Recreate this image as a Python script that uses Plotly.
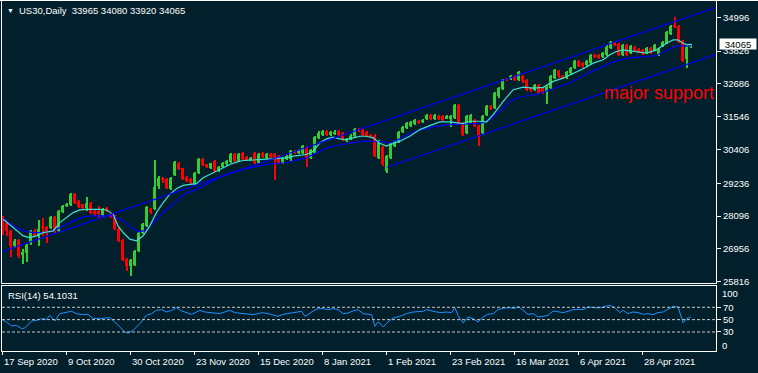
import plotly.graph_objects as go

# ---------------- data ----------------
bars = list(range(173))
opens = [28042,27869,27581,27062,27269,26751,26808,27154,27581,27407,27731,27731,27696,28065,27581,28250,28446,28480,28849,28618,
         28503,28388,28538,28273,28273,28123,28365,28157,28100,27661,27258,26601,26370,26393,26889,27523,27754,28330,28353,29137,
         29426,29391,29022,29506,29921,29748,29449,29368,29195,29599,30060,29887,29771,30002,29679,29795,29887,29968,30267,30002,
         30290,30140,30060,30290,29945,30290,30117,30256,30233,30175,29945,30083,30060,30371,30290,30290,30498,30117,30290,30809,
         30924,31040,30924,30948,31040,30982,30694,30775,30890,31120,31098,31005,30925,30891,30118,30487,29657,30118,30522,30661,
         31006,31156,31237,31294,31387,31363,31467,31617,31467,31583,31560,31479,31479,31502,31963,31329,30983,31329,31444,31237,
         30983,31617,31928,31848,32251,32505,32874,32851,32943,32828,32966,32828,32540,32482,32655,32540,32390,32540,32885,33139,
         32966,32909,33058,33231,33462,33404,33347,33404,33693,33693,33612,33693,33923,34096,34073,33693,34038,33750,33958,33889,
         33866,33750,33923,33861,33687,34000,34093,34406,34730,34696,34188,33544,33965]
highs = [28090,27900,27600,27290,27300,26947,27130,27620,27640,27961,28042,27760,28110,28100,28310,28490,28560,28900,28890,28650,
         28530,28768,28580,28320,28446,28360,28420,28190,28130,27700,27290,26650,26610,26930,27560,27870,28460,28380,30025,29500,
         29460,29420,29460,30000,29960,29780,29480,29400,29630,30120,30100,29920,29950,30040,29830,29980,30040,30270,30300,30270,
         30330,30170,30160,30330,30300,30330,30300,30290,30270,30210,30150,30210,30380,30400,30440,30560,30530,30440,30870,31050,
         31100,31080,31050,31070,31080,31020,30810,30930,31160,31170,31130,31040,30960,30930,30740,30530,30210,30680,30740,31050,
         31220,31370,31400,31480,31420,31480,31650,31650,31650,31620,31600,31600,31600,32000,32000,31360,31620,31650,31480,31270,
         31600,31940,31960,32400,32570,32860,32900,32980,32980,33120,33000,32860,32570,32690,32690,32570,32610,33000,33210,33180,
         33000,33120,33270,33520,33500,33440,33520,33730,33730,33730,33790,34020,34170,34130,34110,34080,34080,34050,33990,33920,
         33900,33980,33960,34070,33920,34180,34510,34730,35017,34730,34220,34004,34080]
lows = [27442,27407,26658,26990,26624,26428,26485,27100,27360,27062,27407,27154,27650,27500,27540,28200,28400,28440,28520,28380,
        28340,28273,28180,28100,28042,28080,28230,28020,27600,27190,26540,26197,26024,26350,26850,27480,27720,28150,28300,29050,
        29250,29040,28990,29470,29680,29330,29270,29200,29150,29560,29820,29780,29730,29620,29640,29760,29850,29940,29970,29970,
        30020,29990,30020,29910,29910,30120,30080,30100,29345,29910,29900,30040,30020,30250,30250,30250,29795,30080,30250,30770,
        30880,30880,30880,30900,30880,30690,30650,30740,30850,31000,30880,30830,30820,30140,30080,29850,29600,30080,30490,30620,
        30970,31120,31200,31260,31290,31330,31430,31430,31430,31430,31400,31450,31180,31460,31290,30880,30950,31290,31200,30522,
        30950,31580,31780,31810,32210,32470,32790,32810,32790,32790,32730,32440,32420,32440,32330,32350,31998,32500,32850,32900,
        32850,32870,33020,33200,33280,33250,33310,33370,33580,33540,33580,33660,33890,34000,33660,33660,33660,33710,33830,33740,
        33680,33720,33720,33830,33650,33970,34060,34380,34640,34110,33450,33225,33920]
closes = [27581,27581,27062,27235,26716,26831,27097,27581,27407,27638,27696,27581,28065,27546,28273,28446,28503,28849,28561,28422,
          28388,28538,28215,28157,28157,28330,28273,28065,27638,27235,26578,26370,26566,26889,27523,27835,28422,28238,29114,29414,
          29368,29080,29426,29968,29714,29368,29310,29253,29599,30083,29852,29806,29921,29656,29795,29945,30002,30233,30002,30233,
          30060,30025,30117,29945,30267,30152,30267,30140,30117,29945,30117,30175,30348,30290,30406,30521,30117,30406,30832,30982,
          31040,30924,31005,31028,30924,30728,30775,30890,31120,31040,30924,30867,30868,30176,30695,29888,30176,30637,30695,31006,
          31179,31329,31363,31444,31329,31444,31617,31467,31617,31467,31444,31560,31560,31963,31329,30925,31583,31617,31237,30891,
          31560,31905,31813,32367,32540,32828,32828,32943,32828,33081,32770,32482,32459,32655,32367,32390,32574,32966,33174,32943,
          32885,33081,33231,33485,33312,33289,33485,33693,33612,33577,33750,33981,34131,34038,33693,34038,33693,34015,33866,33773,
          33716,33946,33750,34034,33885,34149,34475,34694,34673,34154,33485,33958,34065]

# moving averages (vertices)
fast_ma_bar = [0.1,5.1,6.75,8.4,10.1,12.6,14.25,15.9,17.6,19.25,20.9,24.25,25.9,27.6,28.8,30.1,31.75,33.4,35.1,36.75,
               38.4,40.1,41.75,43.4,45.1,46.75,48.4,50.1,51.75,53.4,55.1,56.75,58.4,60.1,61.75,64.25,66.75,69.25,70.9,72.6,
               74.25,75.9,77.6,79.25,80.9,82.6,84.25,85.9,87.6,89.25,90.9,92.6,94.25,95.9,97.6,99.25,101.75,104.25,106.75,109.25,
               111.75,113.4,115.1,116.75,119.25,120.9,122.6,125.1,127.6,130.1,132.6,135.1,137.6,140.1,142.6,145.1,147.6,150.1,151.75,153.4,
               155.1,158.4,160.9,163.4,165.9,167.6,168.8,170.1,171.1,172.1]
fast_ma_val = [27984,27408,27350,27408,27523,27581,27869,28042,28215,28307,28330,28330,28307,28157,27754,27523,27293,27235,27408,27754,
               28215,28561,28849,29045,29160,29195,29218,29426,29541,29656,29771,29887,29968,30025,30037,30060,30083,30083,30117,30175,
               30198,30233,30348,30636,30775,30832,30775,30752,30809,30867,30867,30809,30620,30522,30614,30695,30868,31098,31237,31363,
               31363,31329,31306,31387,31387,31360,31617,32078,32482,32574,32540,32563,32770,32885,33035,33208,33404,33520,33693,33808,
               33866,33808,33750,33866,34096,34211,34211,34096,34038,34062]
slow_ma_bar = [0.1,2.6,5.1,7.6,10.1,12.6,15.1,17.6,20.1,22.6,25.1,27.6,30.1,32.6,34.25,35.9,37.6,39.25,40.9,42.6,
               44.25,45.9,48.4,50.9,53.4,55.9,58.4,60.9,63.4,65.9,68.4,70.9,73.4,75.9,78.4,80.9,83.4,85.9,88.4,90.9,
               94.25,96.75,99.25,101.75,104.25,106.75,109.25,111.75,114.25,116.75,119.25,121.75,124.25,126.75,129.25,131.75,134.25,136.75,139.25,141.75,
               144.25,146.75,149.25,151.75,154.25,156.75,159.25,161.75,163.4,165.1,166.75,168.4,170.1,172.1]
slow_ma_val = [28008,27754,27581,27523,27523,27581,27754,27927,28065,28100,28100,28100,27927,27638,27546,27615,27869,28100,28330,28503,
               28734,28884,29022,29195,29391,29541,29656,29737,29806,29887,29921,29945,30037,30117,30290,30463,30544,30613,30659,30694,
               30680,30637,30776,30960,31075,31156,31237,31271,31294,31306,31306,31444,31733,32078,32228,32286,32344,32482,32597,32713,
               32909,33093,33231,33404,33520,33589,33623,33635,33681,33796,33912,34004,34004,34004]

# trend channel lines (two anchor points each)
upper_line_bar = [-1, 179]
upper_line_val = [26823, 35373]
lower_line_bar = [96, 179]
lower_line_val = [29790, 33738]

# RSI(14) vertices
rsi_bar = [-0.1,0.9,2.2,3.4,4.7,5.5,7.2,8.4,9.7,10.9,11.75,13,14.25,15.9,17.2,18.4,20.1,21.3,22.6,24.25,
           25.9,26.75,28,29.25,30.5,31.3,32.6,34.25,35.9,37.2,38.4,39.7,40.9,42.2,43.4,44.7,45.9,47.2,48.4,49.25,
           50.5,51.75,53,54.25,55.5,56.75,58,59.25,60.9,62.6,63.8,65.1,66.3,67.6,68.8,70.1,71.75,73,74.7,75.5,
           76.3,77.6,78.8,80.1,81.3,82.6,83.8,85.1,86.3,87.6,88.8,90.1,91.3,92.2,93,93.8,94.25,95.1,96.3,97.6,
           99.25,100.9,102.6,105.1,105.9,107.2,108.4,109.7,110.9,112.2,113,113.8,115.1,116.3,117.6,118.8,120.1,121.3,122.6,123.8,
           125.1,126.75,128,128.8,130.1,131.3,132.6,133.8,135.1,136.3,137.6,138.8,140.1,141.3,142.6,143.8,145.1,146.3,147.6,148.8,
           150.1,151.75,153,154.25,155.1,156.3,157.6,158.8,160.1,161.3,162.6,163.8,165.1,166.3,167.6,168.8,170.1,170.9,171.9,172]
rsi_val = [50,46.2,39.7,40.8,35.4,36.5,47.8,48.9,51.6,50.5,57.0,47.8,59.7,61.4,63.5,59.7,58.1,58.6,51.6,51.6,
           53.2,53.2,46.2,38.1,30.0,28.4,32.7,43.5,57.0,59.7,65.1,66.2,62.4,65.1,69.5,64.1,61.4,58.6,62.4,65.1,
           62.4,61.4,59.7,59.7,62.4,65.1,61.4,60.8,59.7,58.1,59.7,61.4,59.7,58.1,55.4,58.6,60.8,61.4,63.5,55.4,
           58.1,64.1,67.8,67.8,66.2,67.8,66.2,59.7,60.8,64.1,66.2,59.7,58.6,58.1,39.2,46.2,44.6,38.1,46.2,52.7,
           55.4,59.7,62.4,63.5,66.2,64.1,62.4,61.4,62.4,61.4,69.5,57.0,44.6,54.3,51.6,46.2,54.3,58.6,59.7,66.2,
           68.4,69.5,67.8,71.6,64.1,58.6,59.7,54.3,55.4,57.0,64.1,62.4,61.4,63.5,66.2,66.8,66.2,70.5,69.5,68.9,
           70.5,73.2,69.5,61.4,65.1,59.7,62.4,61.4,58.6,59.7,58.1,61.4,62.4,66.2,71.6,70.5,44.6,51.6,53.2,54.1]
rsi_levels = [70, 50, 30]

price_ticks = [34996, 33826, 32686, 31546, 30406, 29236, 28096, 26956, 25816]
date_tick_bars = [0, 16, 32, 48, 64, 80, 96, 112, 128, 144, 160]
date_tick_labels = ["17 Sep 2020", "9 Oct 2020", "30 Oct 2020", "23 Nov 2020", "15 Dec 2020", "8 Jan 2021",
                    "1 Feb 2021", "23 Feb 2021", "16 Mar 2021", "6 Apr 2021", "28 Apr 2021"]
title_text = "US30,Daily\u00a0 33965 34080 33920 34065"
rsi_title = "RSI(14) 54.1031"
last_price = 34065
note_text = "major support"

# ---------------- styling / layout ----------------
W, H = 758, 373
BG = "#01202b"
GREEN = "#32CD32"
RED = "#FF0000"
FONT = "Liberation Sans, Arial, sans-serif"

def fx(p):
    return p / W

def fy(p):
    return 1 - p / H

XDOM = [fx(2), fx(716)]
XR = [-0.2, 178.3]

cols = [GREEN if c >= o else RED for o, c in zip(opens, closes)]
fig = go.Figure()
fig.add_trace(go.Bar(x=bars, y=[h - l for h, l in zip(highs, lows)], base=lows, width=0.25,
                     marker=dict(color=cols, line=dict(width=0)), hoverinfo="skip", xaxis="x", yaxis="y"))
fig.add_trace(go.Bar(x=bars, y=[max(abs(c - o), 20) for o, c in zip(opens, closes)],
                     base=[min(o, c) for o, c in zip(opens, closes)], width=0.75,
                     marker=dict(color=cols, line=dict(width=0)), hoverinfo="skip", xaxis="x", yaxis="y"))
fig.add_trace(go.Scatter(x=slow_ma_bar, y=slow_ma_val, mode="lines", line=dict(color="#0000FF", width=1.2),
                         xaxis="x", yaxis="y"))
fig.add_trace(go.Scatter(x=fast_ma_bar, y=fast_ma_val, mode="lines", line=dict(color="#40E0D0", width=1.2),
                         xaxis="x", yaxis="y"))
fig.add_trace(go.Scatter(x=upper_line_bar, y=upper_line_val, mode="lines", line=dict(color="#0000FF", width=1.2),
                         xaxis="x", yaxis="y"))
fig.add_trace(go.Scatter(x=lower_line_bar, y=lower_line_val, mode="lines", line=dict(color="#0000FF", width=1.2),
                         xaxis="x", yaxis="y"))
fig.add_trace(go.Scatter(x=rsi_bar, y=rsi_val, mode="lines", line=dict(color="#1E90FF", width=1),
                         xaxis="x2", yaxis="y2"))

axis_common = dict(showgrid=False, zeroline=False, showline=True, mirror=True, linecolor="white", linewidth=1)
tickfont = dict(family=FONT, size=9.5, color="white")

shapes = []
for lv in rsi_levels:
    shapes.append(dict(type="line", xref="x2 domain", x0=0, x1=1, yref="y2", y0=lv, y1=lv,
                       line=dict(color="#C8C8C8", width=1, dash="3px,2px")))
shapes.append(dict(type="line", xref="paper", x0=0, x1=1, yref="paper", y0=fy(0.5), y1=fy(0.5),
                   line=dict(color="white", width=1)))

ann = []
ann.append(dict(xref="paper", yref="paper", x=fx(5), y=fy(10), xanchor="left", yanchor="middle",
                text="\u25BC", showarrow=False, font=dict(family=FONT, size=7, color="white")))
ann.append(dict(xref="paper", yref="paper", x=fx(17), y=fy(10), xanchor="left", yanchor="middle",
                text=title_text, showarrow=False, font=tickfont))
ann.append(dict(xref="paper", yref="paper", x=fx(6), y=fy(295.5), xanchor="left", yanchor="middle",
                text=rsi_title, showarrow=False, font=tickfont))
ann.append(dict(xref="x", yref="y", x=149.9, y=32377, xanchor="left", yanchor="middle",
                text=note_text, showarrow=False, font=dict(family=FONT, size=18, color=RED)))
ann.append(dict(xref="paper", yref="y", x=fx(719), y=last_price, xanchor="left", yanchor="middle",
                text=str(last_price), showarrow=False, bgcolor="white", width=36, height=10, borderpad=0,
                font=dict(family=FONT, size=9.5, color="black")))
for b, t in zip(date_tick_bars, date_tick_labels):
    ann.append(dict(xref="x2", yref="paper", x=b, y=fy(361), xanchor="left", yanchor="middle",
                    text=t, showarrow=False, xshift=-1, font=tickfont))
ann.append(dict(xref="paper", yref="y2", x=fx(720), y=100, xanchor="left", yanchor="middle", yshift=-4.5,
                text="100", showarrow=False, font=tickfont))
ann.append(dict(xref="paper", yref="y2", x=fx(720), y=0, xanchor="left", yanchor="middle", yshift=5,
                text="0", showarrow=False, font=tickfont))

fig.update_layout(
    width=W, height=H, margin=dict(l=0, r=0, t=0, b=0),
    paper_bgcolor=BG, plot_bgcolor=BG, showlegend=False, barmode="overlay", bargap=0,
    hovermode=False,
    xaxis=dict(domain=XDOM, range=XR, anchor="y", showticklabels=False, ticks="", **axis_common),
    yaxis=dict(domain=[fy(283), fy(1)], range=[25771, 35562], anchor="x", side="right",
               tickvals=price_ticks, ticktext=[str(v) for v in price_ticks], ticks="outside", ticklen=4,
               tickcolor="white", tickfont=tickfont, automargin=False, **axis_common),
    xaxis2=dict(domain=XDOM, range=XR, anchor="y2", tickvals=date_tick_bars, showticklabels=False,
                ticks="outside", ticklen=3, tickcolor="white", **axis_common),
    yaxis2=dict(domain=[fy(351), fy(286)], range=[-0.8, 104.5], anchor="x2", side="right",
                tickvals=rsi_levels, ticks="outside", ticklen=4, tickcolor="white", tickfont=tickfont,
                automargin=False, **axis_common),
    shapes=shapes, annotations=ann,
)

fig.write_html("out.html", config={"displayModeBar": False},
               post_script="document.body.style.margin='0';document.body.style.overflow='hidden';")
